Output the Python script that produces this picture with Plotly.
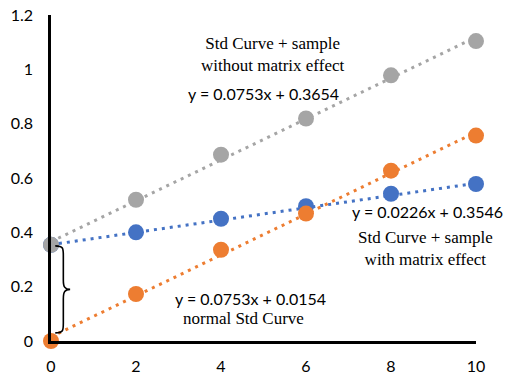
import numpy as np
import plotly.graph_objects as go

x_vals = [0, 2, 4, 6, 8, 10]
normal_std = [0.0, 0.173, 0.336, 0.469, 0.627, 0.756]
with_matrix = [0.354, 0.400, 0.450, 0.496, 0.542, 0.578]
without_matrix = [0.354, 0.520, 0.686, 0.819, 0.978, 1.104]

slopes = {"with": 0.0226, "normal": 0.0753, "without": 0.0753}
intercepts = {"with": 0.3546, "normal": 0.0154, "without": 0.3654}

x_ticks = [0, 2, 4, 6, 8, 10]
y_ticks = [0, 0.2, 0.4, 0.6, 0.8, 1.0, 1.2]
y_tick_text = ["0", "0.2", "0.4", "0.6", "0.8", "1", "1.2"]

BLUE = "#4472C4"
ORANGE = "#ED7D31"
GRAY = "#A5A5A5"

fig = go.Figure()

xl = np.array([0, 10])
for key, col in [("with", BLUE), ("normal", ORANGE), ("without", GRAY)]:
    fig.add_trace(go.Scatter(
        x=xl, y=slopes[key] * xl + intercepts[key], mode="lines",
        line=dict(color=col, width=3, dash="3px,5px"),
        hoverinfo="skip", showlegend=False, cliponaxis=False))

for ys, col in [(with_matrix, BLUE), (normal_std, ORANGE), (without_matrix, GRAY)]:
    fig.add_trace(go.Scatter(
        x=x_vals, y=ys, mode="markers",
        marker=dict(color=col, size=16, line=dict(width=0)),
        showlegend=False, cliponaxis=False))

# curly brace between intercepts
fig.add_shape(type="path", xref="x", yref="y",
              path=("M 0.1,0.35 C 0.3,0.35 0.29,0.34 0.29,0.31 L 0.29,0.225 "
                    "C 0.29,0.2 0.32,0.19 0.45,0.19 C 0.32,0.19 0.29,0.18 0.29,0.155 "
                    "L 0.29,0.07 C 0.29,0.04 0.3,0.03 0.1,0.03"),
              line=dict(color="black", width=1.6))

serif = "Liberation Serif"
sans = "Lato"
ann = [
    dict(xref="x", x=5.2, y=1.056, text="Std Curve + sample<br>without matrix effect", font=dict(family=serif, size=17)),
    dict(xref="x", x=5.0, y=0.911, text="y = 0.0753x + 0.3654", font=dict(family=sans, size=16)),
    dict(xref="paper", x=1.068, xanchor="right", y=0.478, text="y = 0.0226x + 0.3546", font=dict(family=sans, size=16)),
    dict(xref="x", x=8.8, y=0.342, text="Std Curve + sample<br>with matrix effect", font=dict(family=serif, size=17)),
    dict(xref="x", x=4.7, y=0.158, text="y = 0.0753x + 0.0154", font=dict(family=sans, size=16)),
    dict(xref="x", x=4.54, y=0.082, text="normal Std Curve", font=dict(family=serif, size=17)),
]
for a in ann:
    fig.add_annotation(yref="y", showarrow=False, align="center",
                       font_color="black", **a)

fig.update_layout(
    width=506, height=377,
    margin=dict(l=51, r=30, t=15, b=36),
    paper_bgcolor="white", plot_bgcolor="white",
    font=dict(family=sans, size=16, color="black"),
    xaxis=dict(range=[0, 10], tickvals=x_ticks, showgrid=False, zeroline=False,
               showline=True, linecolor="black", linewidth=2.5, ticks="",
               ticklabelstandoff=9, tickfont=dict(size=16), automargin=False),
    yaxis=dict(range=[0, 1.2], tickvals=y_ticks, ticktext=y_tick_text, showgrid=False,
               zeroline=False, showline=True, linecolor="black", linewidth=2.5, ticks="",
               ticklabelstandoff=12, tickfont=dict(size=16), automargin=False),
)

fig.write_html("out.html", config={"displayModeBar": False},
               post_script="document.body.style.margin='0';")
